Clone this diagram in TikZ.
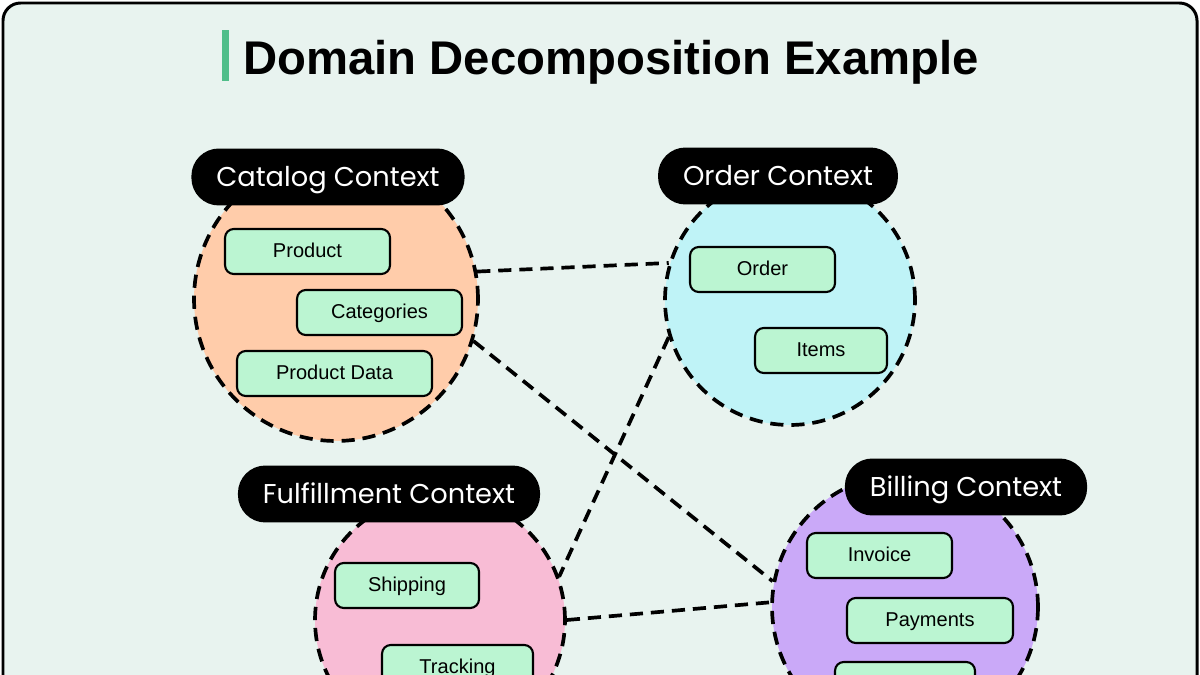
\documentclass[tikz,border=0pt]{standalone}
\usepackage{fontspec}
\setmainfont{Liberation Sans}
\newfontfamily\tagfont{Poppins}
\usetikzlibrary{shapes,shapes.geometric}

\definecolor{bgcol}{HTML}{E8F3EF}
\definecolor{catcol}{HTML}{FFCCAA}
\definecolor{ordcol}{HTML}{BFF3F7}
\definecolor{fulcol}{HTML}{F8BCD5}
\definecolor{bilcol}{HTML}{CAA9F8}
\definecolor{itemcol}{HTML}{BBF5D2}
\definecolor{barcol}{HTML}{50BE8A}

\tikzset{
  ctx/.style={circle, draw, line width=2.1pt, dash pattern=on 7.5pt off 4.5pt, inner sep=0pt},
  tag/.style={rounded corners=0.55cm, fill=black, text=white, font=\tagfont\fontsize{15.5}{18}\selectfont,
    minimum height=1.14cm, inner xsep=0.5cm, text height=1.15em, text depth=0.12em},
  item/.style={draw, line width=1.2pt, rounded corners=5pt, fill=itemcol, minimum height=0.9cm,
    font=\fontsize{11.4}{13}\selectfont, text height=0.8em, text depth=0.16em},
  link/.style={line width=2.1pt, dash pattern=on 7.5pt off 4.5pt}
}

\begin{document}
\begin{tikzpicture}[x=0.02cm,y=-0.02cm]
\useasboundingbox (0,0) rectangle (1200,675);
\clip (0,0) rectangle (1200,675);
\draw[line width=1.7pt, fill=bgcol, rounded corners=10pt] (3,3) rectangle (1197,760);

\fill[barcol] (222,30) rectangle (229,81);
\node[anchor=base west, inner sep=0pt, font=\bfseries\fontsize{26.9}{30}\selectfont] (title) at (243,75) {Domain Decomposition Example};

\node[ctx, fill=catcol, minimum size=5.68cm] (cat) at (336,299) {};
\node[ctx, fill=ordcol, minimum size=5cm] (ord) at (790,300) {};
\node[ctx, fill=fulcol, minimum size=5cm] (ful) at (440,620) {};
\node[ctx, fill=bilcol, minimum size=5.32cm] (bil) at (905,607) {};

\draw[link] (cat.11) -- (ord.163);
\draw[link] (cat.-17) -- (bil.169);
\draw[link] (ord.197) -- (ful.20);
\draw[link] (ful.0) -- (bil.178);

\node[item, minimum width=3.3cm] (product) at (307.5,251.5) {Product};
\node[item, minimum width=3.3cm] (categories) at (379.5,312.5) {Categories};
\node[item, minimum width=3.9cm] (pdata) at (334.5,373.5) {Product Data};
\node[item, minimum width=2.9cm] (order) at (762.5,269.5) {Order};
\node[item, minimum width=2.64cm] (items) at (821,350.5) {Items};
\node[item, minimum width=2.88cm] (shipping) at (407,585.5) {Shipping};
\node[item, minimum width=3.02cm] (tracking) at (457.5,667.5) {Tracking};
\node[item, minimum width=2.9cm] (invoice) at (879.5,555.5) {Invoice};
\node[item, minimum width=3.32cm] (payments) at (930,620.5) {Payments};
\node[item, minimum width=2.8cm] (billx) at (905,684.5) {};

\node[tag] (cattag) at (328,177) {Catalog Context};
\node[tag] (ordtag) at (778,176) {Order Context};
\node[tag] (fultag) at (389,494) {Fulfillment Context};
\node[tag] (biltag) at (966,487) {Billing Context};
\end{tikzpicture}
\end{document}
